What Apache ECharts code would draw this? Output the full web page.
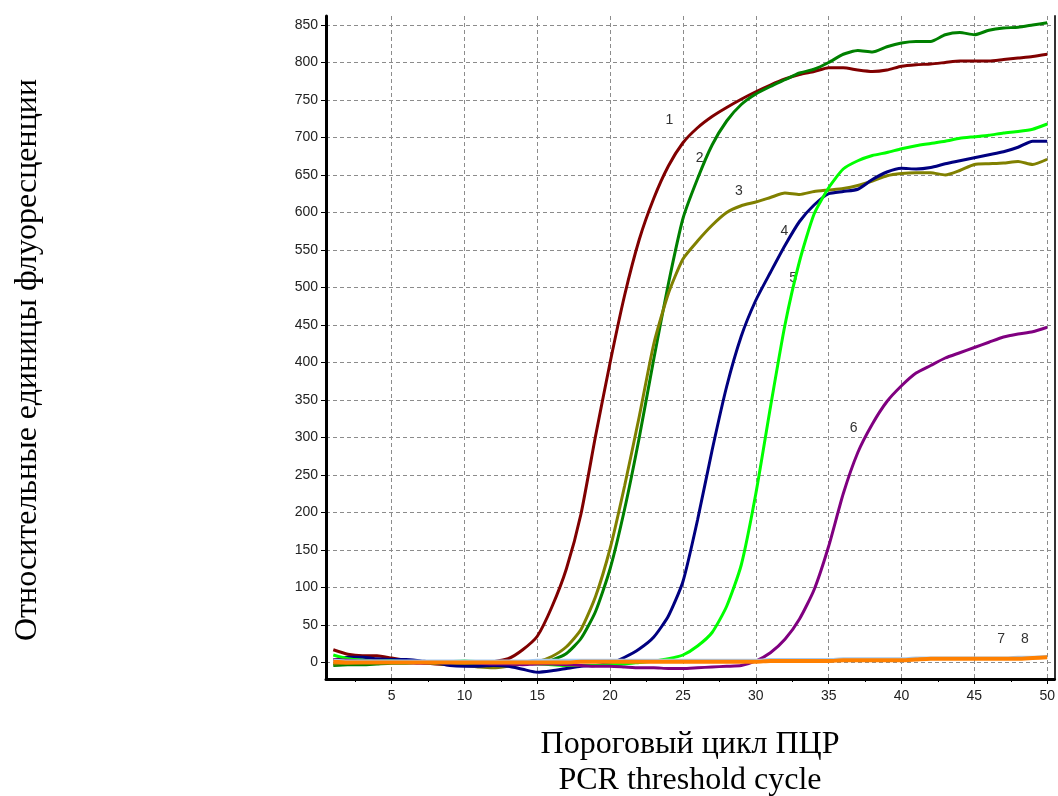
<!DOCTYPE html>
<html>
<head>
<meta charset="utf-8">
<script src="https://cdn.jsdelivr.net/npm/echarts@6/dist/echarts.min.js"></script>
<style>
html,body{margin:0;padding:0;background:#fff;}
#chart{width:1058px;height:796px;}
</style>
</head>
<body>
<div id="chart"></div>
<script>
// ---- data ----
const cycles = Array.from({length: 50}, (_, i) => i + 1);
const xTicks = [5, 10, 15, 20, 25, 30, 35, 40, 45, 50];
const yTicks = [0, 50, 100, 150, 200, 250, 300, 350, 400, 450, 500, 550, 600, 650, 700, 750, 800, 850];

const curve1 = [17, 11, 9, 9, 6, 3, 0, -2, -3, -2, -1, 1, 5, 17, 35, 74, 125, 198, 302, 400, 490, 564, 619, 662, 693, 713, 728, 740, 751, 761, 770, 778, 784, 788, 793, 793, 790, 788, 790, 795, 797, 798, 800, 802, 802, 802, 804, 806, 808, 811];
const curve2 = [-4, -3, -3, -2, -1, -1, 0, -1, -2, -2, -3, -4, -3, -2, 0, 3, 12, 32, 68, 125, 205, 300, 405, 505, 592, 645, 690, 722, 744, 758, 768, 777, 786, 791, 800, 811, 816, 814, 821, 826, 828, 828, 837, 840, 837, 843, 846, 847, 850, 853];
const curve3 = [-2, -1, 0, 1, 2, 1, 0, -1, -3, -4, -6, -7, -5, -2, 1, 8, 21, 44, 88, 152, 236, 328, 425, 492, 538, 562, 583, 600, 609, 614, 620, 626, 624, 628, 630, 632, 636, 642, 649, 652, 653, 653, 650, 656, 664, 665, 666, 668, 664, 671];
const curve4 = [3, 7, 7, 5, 4, 4, 2, 0, -4, -5, -5, -4, -5, -9, -13, -11, -8, -5, -4, -1, 7, 18, 34, 62, 108, 190, 283, 368, 435, 483, 520, 556, 588, 610, 625, 628, 631, 644, 654, 659, 658, 660, 665, 669, 673, 677, 681, 687, 695, 695];
const curve5 = [10, 5, 3, 2, 2, 1, 0, 0, 1, 2, 1, 0, -1, -1, -2, -3, -4, -4, -4, -3, -2, 0, 2, 5, 10, 22, 40, 75, 130, 225, 340, 450, 535, 598, 633, 658, 669, 676, 680, 685, 689, 692, 695, 699, 701, 703, 706, 708, 711, 718];
const curve6 = [4, 3, 2, 2, 1, 0, -1, 0, 1, 0, -1, -2, -2, -3, -2, -2, -3, -4, -5, -5, -6, -7, -7, -8, -8, -7, -6, -5, -4, 2, 13, 31, 58, 97, 155, 225, 280, 318, 348, 369, 386, 396, 406, 413, 420, 427, 434, 438, 441, 447];
const curve7 = [3, 2, 2, 2, 2, 2, 2, 2, 2, 2, 2, 2, 2, 2, 3, 3, 3, 3, 3, 3, 3, 3, 3, 3, 3, 3, 3, 3, 3, 3, 4, 4, 4, 4, 4, 5, 5, 5, 5, 5, 6, 6, 6, 6, 6, 6, 6, 7, 7, 8];
const curve8 = [1, 0, 0, 0, 0, 0, 0, 0, 0, 0, 0, 0, 0, 0, 0, 0, 0, 1, 1, 1, 1, 1, 1, 1, 1, 1, 1, 1, 1, 1, 2, 2, 2, 2, 2, 3, 3, 3, 3, 3, 4, 5, 5, 5, 5, 5, 5, 5, 6, 7];

const curveNames = ['1', '2', '3', '4', '5', '6', '7', '8'];
const curveColors = ['#800000', '#008000', '#808000', '#000080', '#00ff00', '#800080', '#a6caf0', '#ff8000'];
// label anchors in data units [cycle, fluorescence]
const labelAnchors = [[24.07, 723], [26.14, 673], [28.84, 629], [31.97, 575], [32.56, 512], [36.71, 313], [46.83, 31], [48.47, 31]];

const yTitle = 'Относительные единицы флуоресценции';
const xTitle1 = 'Пороговый цикл ПЦР';
const xTitle2 = 'PCR threshold cycle';

// ---- chart ----
const curves = [curve1, curve2, curve3, curve4, curve5, curve6, curve7, curve8];
const chart = echarts.init(document.getElementById('chart'), null, {renderer: 'canvas'});

const gridLineStyle = {color: '#8c8c8c', width: 1, type: [4, 3]};
const tickFont = {fontFamily: 'Liberation Sans', fontSize: 14, color: '#222'};

const series = curves.map((vals, i) => ({
  name: curveNames[i],
  type: 'line',
  data: cycles.map((c, j) => [c, vals[j]]),
  showSymbol: false,
  symbol: 'none',
  smooth: 0.2,
  lineStyle: {color: curveColors[i], width: i === 7 ? 4 : 3},
  itemStyle: {color: curveColors[i]},
  z: 2 + i,
  animation: false,
  markPoint: {
    symbol: 'circle',
    symbolSize: 0,
    silent: true,
    label: {
      show: true,
      position: 'inside',
      formatter: curveNames[i],
      fontFamily: 'Liberation Sans',
      fontSize: 14,
      color: '#333'
    },
    data: [{coord: labelAnchors[i]}]
  }
}));

chart.setOption({
  animation: false,
  backgroundColor: '#fff',
  grid: {left: 326, right: 2, top: 16, bottom: 117, containLabel: false},
  xAxis: {
    type: 'value',
    min: 0.5,
    max: 50.5,
    axisLine: {show: true, onZero: false, lineStyle: {color: '#000', width: 3}},
    axisTick: {show: true, customValues: xTicks, length: 5, lineStyle: {color: '#000', width: 1}},
    minorTick: {show: true, splitNumber: 4, length: 3, lineStyle: {color: '#000'}},
    axisLabel: Object.assign({customValues: xTicks, margin: 10}, tickFont),
    splitLine: {show: true, customValues: xTicks, lineStyle: gridLineStyle}
  },
  yAxis: [{
    type: 'value',
    min: -22,
    max: 862,
    axisLine: {show: true, onZero: false, lineStyle: {color: '#000', width: 3}},
    axisTick: {show: true, customValues: yTicks, length: 5, lineStyle: {color: '#000', width: 1}},
    axisLabel: Object.assign({customValues: yTicks, margin: 8}, tickFont),
    splitLine: {show: true, customValues: yTicks, lineStyle: gridLineStyle}
  }, {
    type: 'value',
    position: 'right',
    min: -22,
    max: 862,
    axisLine: {show: true, onZero: false, lineStyle: {color: '#333', width: 2}},
    axisTick: {show: false},
    axisLabel: {show: false},
    splitLine: {show: false}
  }],
  graphic: [
    {type: 'text', x: 28, y: 360, rotation: Math.PI / 2,
     style: {text: yTitle, font: '32px "Liberation Serif"', fill: '#000', textAlign: 'center', textVerticalAlign: 'middle'}},
    {type: 'text', x: 690, y: 745,
     style: {text: xTitle1, font: '32px "Liberation Serif"', fill: '#000', textAlign: 'center', textVerticalAlign: 'middle'}},
    {type: 'text', x: 690, y: 781,
     style: {text: xTitle2, font: '32px "Liberation Serif"', fill: '#000', textAlign: 'center', textVerticalAlign: 'middle'}}
  ],
  series: series
});
</script>
</body>
</html>
